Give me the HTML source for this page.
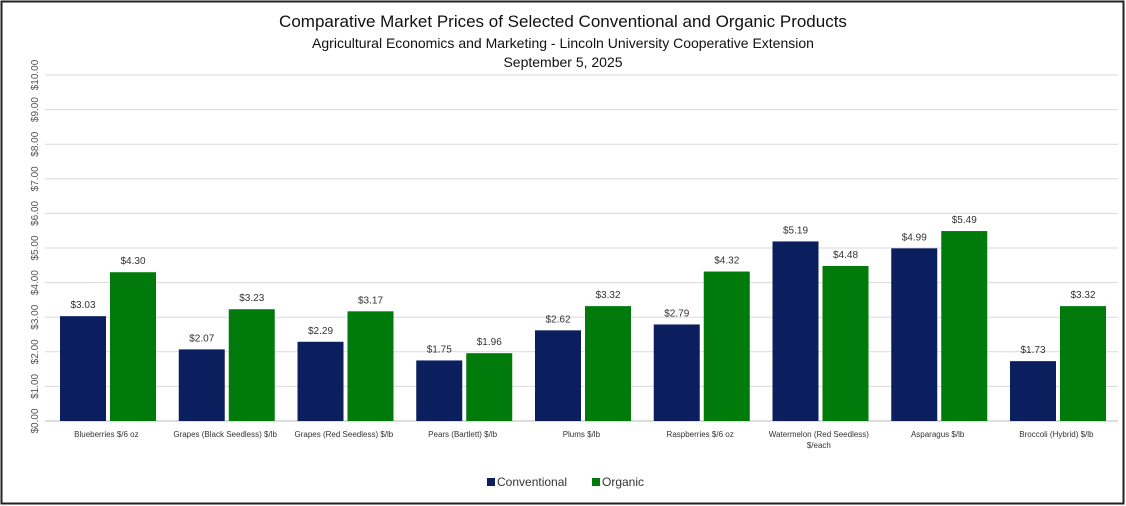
<!DOCTYPE html>
<html><head><meta charset="utf-8"><style>
body{margin:0;background:#fff;}
svg{display:block;font-family:"Liberation Sans",sans-serif;}
</style></head><body>
<svg id="c" width="1126" height="506">
<rect x="1.5" y="1.5" width="1122" height="502" fill="#fff" stroke="#222" stroke-width="2"/>
<text x="563" y="27" text-anchor="middle" font-size="17" fill="#111">Comparative Market Prices of Selected Conventional and Organic Products</text>
<text x="563" y="48" text-anchor="middle" font-size="14" fill="#111">Agricultural Economics and Marketing - Lincoln University Cooperative Extension</text>
<text x="563" y="67" text-anchor="middle" font-size="14" fill="#111">September 5, 2025</text>
<g id="grid"></g><g id="bars"></g><g id="labels"></g>
<g>
<rect x="487" y="478" width="8" height="8" fill="#0b1f5e"/>
<text x="497" y="486" font-size="12" fill="#333">Conventional</text>
<rect x="592" y="478" width="8" height="8" fill="#007a0a"/>
<text x="602" y="486" font-size="12" fill="#333">Organic</text>
</g>
</svg>
<script>
const categories=[["Blueberries $/6 oz"],["Grapes (Black Seedless) $/lb"],["Grapes (Red Seedless) $/lb"],["Pears (Bartlett) $/lb"],["Plums $/lb"],["Raspberries $/6 oz"],["Watermelon (Red Seedless)","$/each"],["Asparagus $/lb"],["Broccoli (Hybrid) $/lb"]];
const conventional=[3.03,2.07,2.29,1.75,2.62,2.79,5.19,4.99,1.73];
const organic=[4.30,3.23,3.17,1.96,3.32,4.32,4.48,5.49,3.32];
const ticks=[0,1,2,3,4,5,6,7,8,9,10];
const NS="http://www.w3.org/2000/svg";
const x0=45,x1=1118,y0=421,y1=75;
const bw=118.75;
const y=v=>y0-(v/10)*(y0-y1);
function mk(t,a,p){const e=document.createElementNS(NS,t);for(const k in a)e.setAttribute(k,a[k]);p.appendChild(e);return e;}
const g=document.getElementById('grid'),b=document.getElementById('bars'),l=document.getElementById('labels');
ticks.forEach(t=>{
const ln=mk('line',{x1:x0,x2:x1,y1:y(t),y2:y(t),stroke:t===0?'#bbb':'#d9d9d9','stroke-width':1},g);


const tx=mk('text',{x:0,y:0,'font-size':10,fill:'#555','text-anchor':'middle',transform:`translate(38,${y(t)}) rotate(-90)`},g);
tx.textContent='$'+t.toFixed(2);


});
categories.forEach((c,i)=>{
const cx=x0+i*bw;
[[conventional[i],'#0b1f5e',15,'conventional'],[organic[i],'#007a0a',65,'organic']].forEach(([v,col,off,nm])=>{
const r=mk('rect',{x:cx+off,y:y(v),width:46,height:y0-y(v),fill:col},b);


const t=mk('text',{x:cx+off+23,y:y(v)-8,'text-anchor':'middle','font-size':10,fill:'#333'},l);
t.textContent='$'+v.toFixed(2);


});
c.forEach((s,j)=>{
const t=mk('text',{x:cx+bw/2+2,y:437+j*11,'text-anchor':'middle','font-size':8,fill:'#333'},l);
t.textContent=s;


});
});
</script>
</body></html>
